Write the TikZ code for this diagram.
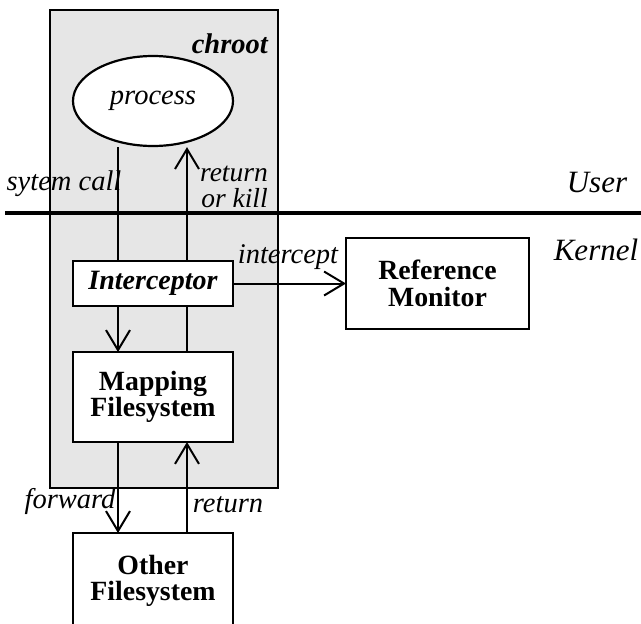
\documentclass[tikz,border=0pt]{standalone}
\usepackage{fontspec}
\setmainfont{Liberation Serif}
\usetikzlibrary{arrows.meta,shapes.geometric}
\definecolor{jailgray}{HTML}{E6E6E6}
\begin{document}
\begin{tikzpicture}[x=1pt,y=-1pt,
  every node/.style={font=\fontsize{28.5}{26}\selectfont},
  box/.style={draw,line width=2.6pt,fill=white,inner sep=0pt,outer sep=0pt,align=center,
    minimum width=160pt,font=\fontsize{27.8}{26.5}\selectfont\bfseries},
  lbl/.style={font=\fontsize{28.5}{26}\selectfont\itshape,inner sep=0pt},
  big/.style={font=\fontsize{31}{26}\selectfont\itshape,inner sep=0pt},
  conn/.style={line width=2pt},
  tip/.style={-{Straight Barb[length=20pt,width=24pt,line width=2pt]}}]
  \clip (0,0) rectangle (641,624);
  \useasboundingbox (0,0) rectangle (641,624);

  % chroot jail
  \node[draw,line width=2.6pt,fill=jailgray,inner sep=0pt,outer sep=0pt,
        minimum width=228pt,minimum height=478pt] (jail) at (164,249) {};
  \node[lbl,font=\fontsize{28.5}{26}\selectfont\bfseries\itshape,anchor=base east] (jaillbl) at (268,53) {chroot};

  % user/kernel boundary
  \coordinate (sepL) at (5,213);
  \coordinate (sepR) at (641,213);
  \draw[line width=4.5pt] (sepL) -- (sepR);
  \node[big,anchor=base] (user) at (597,192) {User};
  \node[big,anchor=base] (kernel) at (596,260) {Kernel};

  % components
  \node[draw,ellipse,line width=2.2pt,fill=white,inner sep=0pt,
        minimum width=160pt,minimum height=90pt] (proc) at (153,101) {\itshape process};
  \node[box,minimum height=45pt,font=\fontsize{28}{26}\selectfont\bfseries\itshape] (icpt) at (153,283.5) {Interceptor};
  \node[box,minimum height=90pt] (map) at (153,397) {Mapping\\Filesystem};
  \node[box,minimum width=183pt,minimum height=91pt] (refmon) at (437.5,283.5) {Reference\\Monitor};
  \node[box,minimum height=96pt] (other) at (153,581) {Other\\Filesystem};

  % call paths
  \coordinate (lx) at (118,0);
  \coordinate (rx) at (187,0);
  \draw[conn] (proc.south -| lx) -- (icpt.north -| lx);
  \draw[conn,tip] (icpt.south -| lx) -- (map.north -| lx);
  \draw[conn,tip] (map.south -| lx) -- (other.north -| lx);
  \draw[conn,tip] (other.north -| rx) -- (map.south -| rx);
  \draw[conn] (map.north -| rx) -- (icpt.south -| rx);
  \draw[conn,tip] (icpt.north -| rx) -- (proc.south -| rx);
  \draw[conn,tip] (icpt.east) -- (refmon.west);

  % path labels
  \node[lbl,anchor=base] (syscall) at (64,190) {sytem call};
  \node[lbl,align=right,font=\fontsize{27.5}{26}\selectfont\itshape,anchor=east] (ret1) at (268,187) {return\\or kill};
  \node[lbl,anchor=base] (intlbl) at (288,263) {intercept};
  \node[lbl,anchor=base] (fwd) at (70,508) {forward};
  \node[lbl,anchor=base] (ret3) at (228,512) {return};
\end{tikzpicture}
\end{document}
